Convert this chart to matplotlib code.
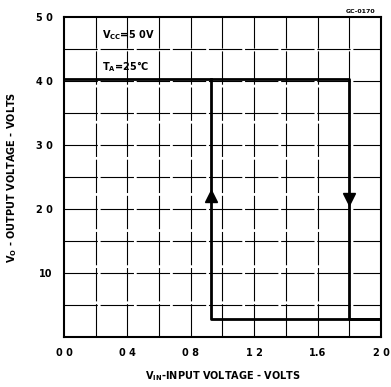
import matplotlib.pyplot as plt
import numpy as np

# hysteresis loop
high_x = [0.0, 1.80, 1.80, 2.0]
high_y = [4.03, 4.03, 0.28, 0.28]
low_x = [2.0, 0.925, 0.925]
low_y = [0.28, 0.28, 4.03]

x_ticks = [0.0, 0.4, 0.8, 1.2, 1.6, 2.0]
x_tick_labels = ["0 0", "0 4", "0 8", "1 2", "1.6", "2 0"]
y_ticks = [1.0, 2.0, 3.0, 4.0, 5.0]
y_tick_labels = ["10", "2 0", "3 0", "4 0", "5 0"]

fig = plt.figure(figsize=(3.91, 3.87), dpi=100)
ax = fig.add_axes([0.1637, 0.1292, 0.8107, 0.8269])

# grid every 0.2 V (x) and 0.5 V (y)
for gx in np.arange(0.2, 2.0, 0.2):
    ax.axvline(gx, color="black", lw=0.8, ls=(0, (30, 2.5)), zorder=1)
for gy in np.arange(0.5, 5.0, 0.5):
    ax.axhline(gy, color="black", lw=0.8, ls=(0, (30, 2.5)), zorder=1)

ax.plot(high_x, high_y, color="black", lw=2.0, zorder=3)
ax.plot(low_x, low_y, color="black", lw=2.0, zorder=3)

# direction arrows
ax.plot([0.925], [2.2], marker="^", color="black", markersize=8, zorder=4)
ax.plot([1.80], [2.15], marker="v", color="black", markersize=8, zorder=4)

ax.set_xlim(0, 2.0)
ax.set_ylim(0, 5.0)
ax.set_xticks(x_ticks)
ax.set_xticklabels(x_tick_labels, fontsize=7, fontweight="bold")
ax.set_yticks(y_ticks)
ax.set_yticklabels(y_tick_labels, fontsize=7, fontweight="bold")
ax.tick_params(length=0, pad=8)
for s in ax.spines.values():
    s.set_linewidth(1.5)

ax.set_xlabel("V$_{\\mathregular{IN}}$-INPUT VOLTAGE - VOLTS", fontsize=7,
              fontweight="bold", labelpad=8)
ax.set_ylabel("V$_{\\mathregular{O}}$ - OUTPUT VOLTAGE - VOLTS", fontsize=7,
              fontweight="bold", labelpad=12)

ax.text(0.24, 4.72, "V$_{\\mathregular{CC}}$=5 0V", fontsize=7, fontweight="bold",
        ha="left", va="center")
ax.text(0.24, 4.22, "T$_{\\mathregular{A}}$=25°C", fontsize=7, fontweight="bold",
        ha="left", va="center")
fig.text(0.96, 0.97, "GC-0170", fontsize=4.5, fontweight="bold", ha="right", va="center")

fig.savefig("out.png", dpi=100)
